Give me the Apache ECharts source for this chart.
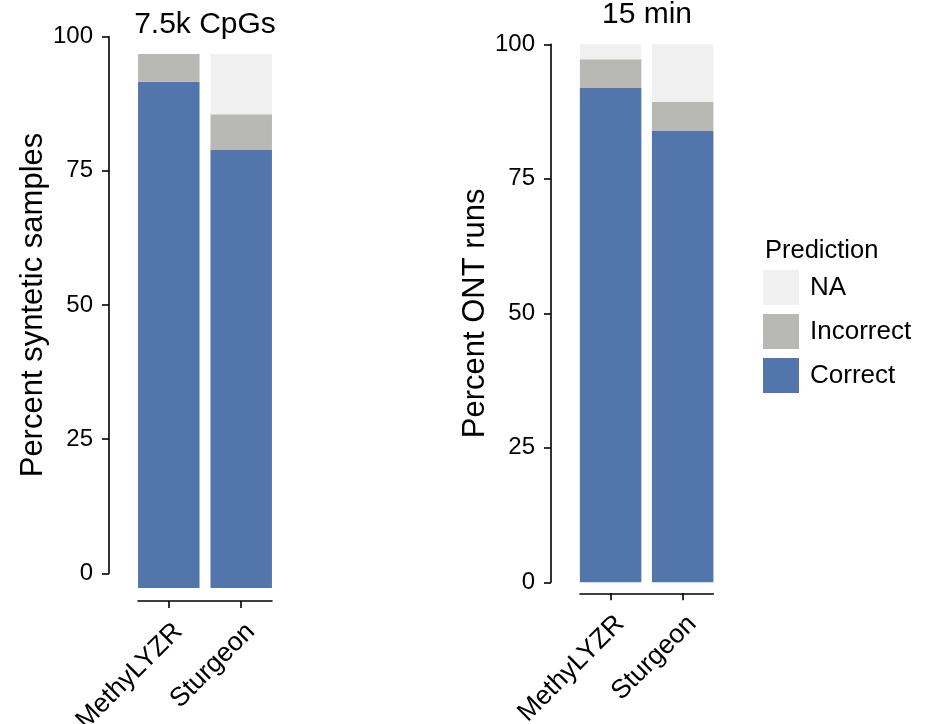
<!DOCTYPE html>
<html>
<head>
<meta charset="utf-8">
<script src="https://cdn.jsdelivr.net/npm/echarts@6/dist/echarts.min.js"></script>
<style>
html,body{margin:0;padding:0;background:#fff;}
#main{width:935px;height:724px;}
</style>
</head>
<body>
<div id="main"></div>
<script>
// ---- data ----
const categories = ['MethyLYZR', 'Sturgeon'];
const categoryPos = [1, 2];
const legendNames = ['NA', 'Incorrect', 'Correct'];
const yTicks = [0, 25, 50, 75, 100];

// panel 1: 7.5k CpGs (percent synthetic samples)
const cpgCorrect = [94.8, 82.0];
const cpgIncorrect = [5.2, 6.7];
const cpgNA = [0, 11.3];

// panel 2: 15 min (percent ONT runs)
const minCorrect = [91.9, 83.9];
const minIncorrect = [5.3, 5.4];
const minNA = [2.8, 10.7];

// ---- styles ----
const FONT = 'Liberation Sans, Arial, Helvetica, sans-serif';
const colors = { 'Correct': '#5276AB', 'Incorrect': '#B8B9B4', 'NA': '#F0F0F0' };
const AXIS_COLOR = '#000';

// value first, position second (encode maps them) so that stacking runs along y
function pairs(vals) { return vals.map((v, i) => [v, categoryPos[i]]); }

function xAxisCfg(gridIndex, offset) {
  return {
    type: 'value', gridIndex: gridIndex, min: 0.575, max: 2.425, offset: offset,
    splitLine: { show: false },
    axisLine: { show: true, onZero: false, lineStyle: { color: AXIS_COLOR, width: 1.6 } },
    axisTick: { show: true, customValues: categoryPos, length: 7, lineStyle: { color: AXIS_COLOR, width: 1.6 } },
    axisLabel: {
      show: true, customValues: categoryPos, rotate: 45, margin: 17,
      align: 'right', verticalAlign: 'top', padding: [0, 0, 0, 0],
      fontFamily: FONT, fontSize: 26.5, color: '#000',
      formatter: function (v) { const i = categoryPos.indexOf(Math.round(v)); return i >= 0 ? categories[i] : ''; }
    }
  };
}

function yAxisVisible(gridIndex, name, offset) {
  return {
    type: 'value', gridIndex: gridIndex, min: 0, max: 100, interval: 25, offset: offset,
    name: name, nameLocation: 'middle', nameGap: 58,
    nameTextStyle: { fontFamily: FONT, fontSize: 31, color: '#000' },
    splitLine: { show: false },
    axisLine: { show: true, onZero: false, lineStyle: { color: AXIS_COLOR, width: 1.6 } },
    axisTick: { show: true, length: 7, lineStyle: { color: AXIS_COLOR, width: 1.6 } },
    axisLabel: { show: true, margin: 16, fontFamily: FONT, fontSize: 24, color: '#000' }
  };
}

function barSeries(name, vals, xi, yi, stack) {
  return {
    name: name, type: 'bar', stack: stack, xAxisIndex: xi, yAxisIndex: yi,
    data: pairs(vals), encode: { x: 1, y: 0 }, barWidth: 61.5,
    itemStyle: { color: colors[name] },
    emphasis: { disabled: true }
  };
}

const chart = echarts.init(document.getElementById('main'), null, { renderer: 'canvas' });
chart.setOption({
  animation: false,
  backgroundColor: '#fff',
  title: [
    { text: '7.5k CpGs', left: 205, top: 10, textAlign: 'center', padding: 0,
      textStyle: { fontFamily: FONT, fontSize: 30, fontWeight: 'normal', color: '#000' } },
    { text: '15 min', left: 647, top: 0, textAlign: 'center', padding: 0,
      textStyle: { fontFamily: FONT, fontSize: 30, fontWeight: 'normal', color: '#000' } },
    { text: 'Prediction', left: 765, top: 238, padding: 0,
      textStyle: { fontFamily: FONT, fontSize: 25.5, fontWeight: 'normal', color: '#000' } }
  ],
  legend: {
    orient: 'vertical', left: 763, top: 270, padding: 0,
    data: legendNames, icon: 'rect', itemWidth: 36, itemHeight: 35, itemGap: 9,
    selectedMode: false,
    textStyle: { fontFamily: FONT, fontSize: 26, color: '#000', padding: [0, 0, 0, 6] }
  },
  grid: [
    // left visible y axis only
    { left: 109, top: 36.7, width: 1, height: 536.6, containLabel: false, outerBoundsMode: 'none' },
    // left bars
    { left: 138, top: 54, width: 134, height: 534, containLabel: false, outerBoundsMode: 'none' },
    // right bars
    { left: 580, top: 44.3, width: 133.3, height: 538, containLabel: false, outerBoundsMode: 'none' }
  ],
  xAxis: [
    { type: 'value', gridIndex: 0, min: 0, max: 1, show: false },
    xAxisCfg(1, 13),
    xAxisCfg(2, 11)
  ],
  yAxis: [
    yAxisVisible(0, 'Percent syntetic samples', 0),
    { type: 'value', gridIndex: 1, min: 0, max: 100, show: false },
    yAxisVisible(2, 'Percent ONT runs', 29)
  ],
  series: [
    barSeries('Correct', cpgCorrect, 1, 1, 'cpg'),
    barSeries('Incorrect', cpgIncorrect, 1, 1, 'cpg'),
    barSeries('NA', cpgNA, 1, 1, 'cpg'),
    barSeries('Correct', minCorrect, 2, 2, 'min'),
    barSeries('Incorrect', minIncorrect, 2, 2, 'min'),
    barSeries('NA', minNA, 2, 2, 'min')
  ]
});
</script>
</body>
</html>
